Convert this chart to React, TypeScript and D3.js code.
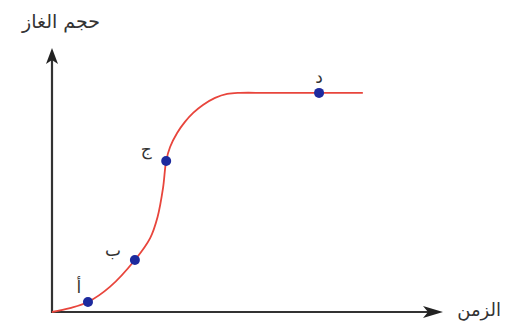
import React from 'react';
import * as d3 from 'd3';

// curve samples (time, gas volume)
const curveTime = [0, 0.46, 0.92, 1.48, 2.12, 2.51, 2.7, 2.84, 2.92, 3.02, 3.2, 3.4, 3.61, 3.86, 4.17, 4.48, 4.81, 5.5, 7.95];
const curveVolume = [0, 0.15, 0.38, 0.95, 1.97, 2.8, 3.6, 4.7, 5.72, 6.25, 6.78, 7.2, 7.54, 7.84, 8.11, 8.26, 8.3, 8.3, 8.3];

// marked points
const pointLabels = ['أ', 'ب', 'ج', 'د'];
const pointTime = [0.92, 2.12, 2.92, 6.83];
const pointVolume = [0.38, 1.97, 5.72, 8.3];

const yTitle = 'حجم الغاز';
const xTitle = 'الزمن';

const W = 508, H = 324;
const FONT = '"DejaVu Sans", sans-serif';

const App = () => {
    const x = d3.scaleLinear().domain([0, 10]).range([52, 443]);
    const y = d3.scaleLinear().domain([0, 10]).range([312, 48]);

    const line = d3.line<number>()
        .x((d, i) => x(curveTime[i]))
        .y(d => y(d))
        .curve(d3.curveCatmullRom.alpha(0.5));

    const x0 = x(0), y0 = y(0), xEnd = x(10), yEnd = y(10);

    // label offsets relative to each point (px)
    const labelDx = [-9, -22, -20, 0];
    const labelDy = [-9, -4, -6, -10];

    return (
        <svg width={W} height={H} style={{ position: 'absolute', left: 0, top: 0, background: '#fff' }}>
            <line x1={x0} y1={y0 + 1} x2={x0} y2={yEnd + 6} stroke="#333" strokeWidth={2.2} />
            <line x1={x0 - 1} y1={y0} x2={xEnd - 6} y2={y0} stroke="#333" strokeWidth={2.2} />
            <path d={`M${x0},${yEnd} L${x0 + 6},${yEnd + 16} L${x0},${yEnd + 12} L${x0 - 6},${yEnd + 16} Z`} fill="#222" />
            <path d={`M${xEnd},${y0} L${xEnd - 20},${y0 - 6} L${xEnd - 15},${y0} L${xEnd - 20},${y0 + 6} Z`} fill="#222" />

            <path d={line(curveVolume) || ''} fill="none" stroke="#e8453c" strokeWidth={1.8} />

            {pointLabels.map((lab, i) => (
                <g key={lab}>
                    <circle cx={x(pointTime[i])} cy={y(pointVolume[i])} r={5} fill="#1d2a9e" />
                    <text x={x(pointTime[i]) + labelDx[i]} y={y(pointVolume[i]) + labelDy[i]}
                        fontFamily={FONT} fontSize={17} fill="#333" textAnchor="middle">{lab}</text>
                </g>
            ))}

            <text x={100} y={28} fontFamily={FONT} fontSize={19} fill="#333" textAnchor="end">{yTitle}</text>
            <text x={501} y={316} fontFamily={FONT} fontSize={18} fill="#333" textAnchor="end">{xTitle}</text>
        </svg>
    );
};

export default App;
